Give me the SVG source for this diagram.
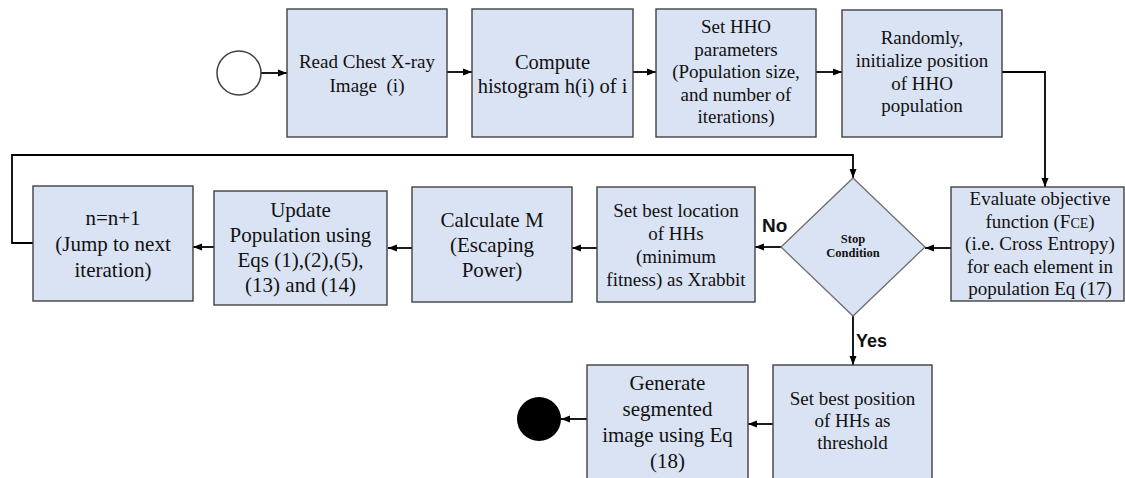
<svg xmlns="http://www.w3.org/2000/svg" width="1125" height="478" viewBox="0 0 1125 478">
  <defs>
    <style>
      .box { fill: #dae3f3; stroke: #404040; stroke-width: 1.4; }
      .dia { fill: #dae3f3; stroke: #6f6f6f; stroke-width: 1.3; }
      text.t { font-family: 'Liberation Serif', 'DejaVu Serif', serif; fill: #111; text-anchor: middle; }
      text.lbl { font-family: 'Liberation Sans', sans-serif; font-weight: bold; fill: #111; }
      .wire { fill: none; stroke: #000; stroke-width: 1.8; }
    </style>
    <marker id="arrow" markerUnits="userSpaceOnUse" markerWidth="10" markerHeight="8" refX="9" refY="4" orient="auto">
      <path d="M0,0.5 L9,4 L0,7.5 z" fill="#000"/>
    </marker>
  </defs>

  <rect width="1125" height="478" fill="#fff"/>

  <!-- connectors -->
  <g id="connectors" class="wire">
    <line x1="261" y1="73" x2="287" y2="73" marker-end="url(#arrow)"/>
    <line x1="447" y1="72" x2="472" y2="72" marker-end="url(#arrow)"/>
    <line x1="633" y1="72" x2="656" y2="72" marker-end="url(#arrow)"/>
    <line x1="816" y1="72" x2="842" y2="72" marker-end="url(#arrow)"/>
    <polyline points="1002,72 1045,72 1045,187" marker-end="url(#arrow)"/>
    <line x1="951" y1="248" x2="925" y2="248" marker-end="url(#arrow)"/>
    <line x1="781" y1="247" x2="755" y2="247" marker-end="url(#arrow)"/>
    <line x1="597" y1="248" x2="572" y2="248" marker-end="url(#arrow)"/>
    <line x1="412" y1="248" x2="388" y2="248" marker-end="url(#arrow)"/>
    <line x1="214" y1="247" x2="193" y2="247" marker-end="url(#arrow)"/>
    <polyline points="33,243 12,243 12,155 853,155 853,178" marker-end="url(#arrow)"/>
    <line x1="853" y1="316" x2="853" y2="365" marker-end="url(#arrow)"/>
    <line x1="773" y1="424" x2="748" y2="424" marker-end="url(#arrow)"/>
    <line x1="587" y1="419" x2="561" y2="419" marker-end="url(#arrow)"/>
  </g>

  <!-- branch labels -->
  <text class="lbl" font-family="Liberation Sans, sans-serif" x="762" y="232" font-size="19">No</text>
  <text class="lbl" font-family="Liberation Sans, sans-serif" x="856" y="347" font-size="18">Yes</text>

  <g id="start">
    <circle cx="239" cy="73" r="22" fill="#fff" stroke="#404040" stroke-width="1.5"/>
  </g>

  <g id="read-image">
    <rect class="box" x="287" y="9" width="160" height="128"/>
    <text class="t" font-family="Liberation Serif, serif" font-size="19"><tspan x="367" y="68">Read Chest X-ray</tspan><tspan x="367" y="92">Image&#160; (i)</tspan></text>
  </g>

  <g id="histogram">
    <rect class="box" x="472" y="9" width="161" height="128"/>
    <text class="t" font-family="Liberation Serif, serif" font-size="20.5"><tspan x="552.5" y="69">Compute</tspan><tspan x="552.5" y="93">histogram h(i) of i</tspan></text>
  </g>

  <g id="hho-params">
    <rect class="box" x="656" y="9" width="160" height="128"/>
    <text class="t" font-family="Liberation Serif, serif" font-size="19"><tspan x="736" y="33">Set HHO</tspan><tspan x="736" y="55.5">parameters</tspan><tspan x="736" y="78">(Population size,</tspan><tspan x="736" y="100.5">and number of</tspan><tspan x="736" y="123">iterations)</tspan></text>
  </g>

  <g id="init-population">
    <rect class="box" x="842" y="10" width="160" height="127"/>
    <text class="t" font-family="Liberation Serif, serif" font-size="19"><tspan x="922" y="44">Randomly,</tspan><tspan x="922" y="67">initialize position</tspan><tspan x="922" y="90">of HHO</tspan><tspan x="922" y="112">population</tspan></text>
  </g>

  <g id="evaluate">
    <rect class="box" x="951" y="187" width="173" height="114"/>
    <text class="t" font-family="Liberation Serif, serif" font-size="19"><tspan x="1040" y="205">Evaluate objective</tspan><tspan x="1040" y="227.5">function (F<tspan font-size="14">CE</tspan>)</tspan><tspan x="1040" y="250">(i.e. Cross Entropy)</tspan><tspan x="1040" y="272.5">for each element in</tspan><tspan x="1040" y="295">population Eq (17)</tspan></text>
  </g>

  <g id="stop-condition">
    <polygon class="dia" points="853,178 925,247 853,316 781,247"/>
    <text class="t" font-family="Liberation Serif, serif" font-size="12.5" font-weight="bold"><tspan x="853" y="243">Stop</tspan><tspan x="853" y="257">Condition</tspan></text>
  </g>

  <g id="best-location">
    <rect class="box" x="597" y="187" width="158" height="115"/>
    <text class="t" font-family="Liberation Serif, serif" font-size="19"><tspan x="676" y="217">Set best location</tspan><tspan x="676" y="240">of HHs</tspan><tspan x="676" y="263">(minimum</tspan><tspan x="676" y="286">fitness) as Xrabbit</tspan></text>
  </g>

  <g id="calculate-m">
    <rect class="box" x="412" y="187" width="160" height="115"/>
    <text class="t" font-family="Liberation Serif, serif" font-size="21"><tspan x="492" y="227">Calculate M</tspan><tspan x="492" y="252">(Escaping</tspan><tspan x="492" y="277">Power)</tspan></text>
  </g>

  <g id="update-population">
    <rect class="box" x="214" y="191" width="173" height="114"/>
    <text class="t" font-family="Liberation Serif, serif" font-size="21"><tspan x="300.5" y="217">Update</tspan><tspan x="300.5" y="242">Population using</tspan><tspan x="300.5" y="267">Eqs (1),(2),(5),</tspan><tspan x="300.5" y="292">(13) and (14)</tspan></text>
  </g>

  <g id="next-iteration">
    <rect class="box" x="33" y="186" width="160" height="115"/>
    <text class="t" font-family="Liberation Serif, serif" font-size="21"><tspan x="113" y="225">n=n+1</tspan><tspan x="113" y="251">(Jump to next</tspan><tspan x="113" y="277">iteration)</tspan></text>
  </g>

  <g id="best-position">
    <rect class="box" x="773" y="365" width="159" height="120"/>
    <text class="t" font-family="Liberation Serif, serif" font-size="19"><tspan x="852.5" y="405">Set best position</tspan><tspan x="852.5" y="427">of HHs as</tspan><tspan x="852.5" y="449">threshold</tspan></text>
  </g>

  <g id="generate-image">
    <rect class="box" x="587" y="365" width="161" height="120"/>
    <text class="t" font-family="Liberation Serif, serif" font-size="21"><tspan x="667.5" y="390">Generate</tspan><tspan x="667.5" y="416">segmented</tspan><tspan x="667.5" y="442">image using Eq</tspan><tspan x="667.5" y="468">(18)</tspan></text>
  </g>

  <g id="end">
    <circle cx="539" cy="419" r="22" fill="#000"/>
  </g>
</svg>
